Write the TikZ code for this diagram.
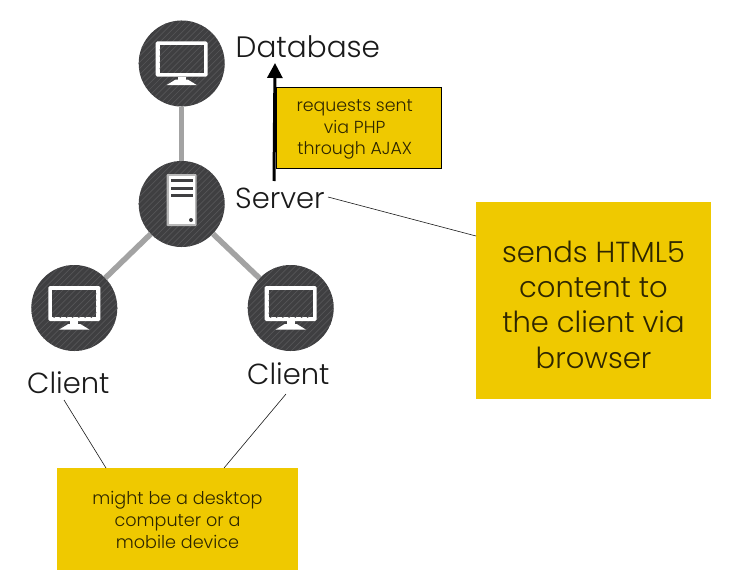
\documentclass[tikz,border=0pt]{standalone}
\usepackage{fontspec}
\setmainfont{Poppins}[UprightFont=* Light]
\usetikzlibrary{arrows.meta}
\definecolor{disc}{HTML}{3F3F41}
\definecolor{stripe}{HTML}{565658}
\definecolor{gold}{HTML}{EFC900}
\definecolor{linkgray}{HTML}{A3A3A3}
\definecolor{ink}{HTML}{1A1A1A}
\definecolor{noteink}{HTML}{2E2600}
\tikzset{
  x=1pt,y=-1pt,
  striped/.style={fill=disc,
    path picture={
      \foreach \k in {-14,...,14}
        \draw[stripe,line width=0.7pt]
          ([xshift=\k*6.2pt-50pt,yshift=-50pt]path picture bounding box.center) --
          ([xshift=\k*6.2pt+50pt,yshift=50pt]path picture bounding box.center);
    }},
  disc node/.style={circle,striped,minimum size=86pt,inner sep=0pt},
  link/.style={linkgray,line width=5.5pt},
  leader/.style={ink,line width=0.6pt},
  label text/.style={text=ink,inner sep=0pt,font=\fontsize{29}{32}\selectfont},
  note/.style={fill=gold,inner sep=0pt,align=center,text=noteink},
  note text/.style={inner sep=0pt,align=center,text=noteink},
  monitor/.pic={
    \fill[white,rounded corners=1.5pt] (-26,-22) rectangle (26,13);
    \path[striped] (-22,-18) rectangle (22,9);
    \fill[white] (-4,13) rectangle (4,17);
    \fill[white] (-6,16) -- (6,16) -- (15,21.5) -- (-15,21.5) -- cycle;
  },
  tower/.pic={
    \fill[white!72!black,rounded corners=1pt] (-15,-30) rectangle (15,22);
    \fill[white] (-13,-28) rectangle (13,20);
    \fill[disc] (-11,-24.8) rectangle (11,-21.8);
    \fill[disc] (-11,-17.5) rectangle (11,-14.5);
    \fill[disc] (-11,-10.5) rectangle (11,-7.5);
    \fill[disc] (9.3,16) circle (2);
  },
}
\begin{document}
\begin{tikzpicture}
\useasboundingbox (0,0) rectangle (730,586);
\fill[white] (0,0) rectangle (730,586);
% discs
\node[disc node] (db) at (181.7,63.5) {};
\node[disc node] (srv) at (181.7,204) {};
\node[disc node] (cl) at (74.3,308) {};
\node[disc node] (cr) at (290.7,308) {};
\pic at (db) {monitor};
\pic at (srv) {tower};
\pic at (cl) {monitor};
\pic at (cr) {monitor};
% links
\draw[link] (db) -- (srv);
\draw[link] (srv) -- (cl);
\draw[link] (srv) -- (cr);
% notes
\node[note,draw=black,line width=0.6pt,minimum width=165pt,minimum height=81pt] (ajax) at (358.5,127.5) {};
\node[note text,font=\fontsize{17.4}{21.5}\selectfont] (ajaxt) at (354.7,129.5) {requests sent\\via PHP\\through AJAX};
\node[note,minimum width=235pt,minimum height=197pt] (html) at (593.5,300.5) {};
\node[note text,font=\fontsize{29}{35.3}\selectfont] (htmlt) at (593.5,304.5) {sends HTML5\\content to\\the client via\\browser};
\node[note,minimum width=241pt,minimum height=102pt] (dev) at (177.5,519) {};
\node[note text,font=\fontsize{17.6}{22}\selectfont] (devt) at (177.5,520) {might be a desktop\\computer or a\\mobile device};
% labels
\node[label text,anchor=base west,font=\fontsize{29.5}{32}\selectfont] (ldb) at (235.5,58) {Database};
\node[label text,anchor=base west] (lsrv) at (235,208) {Server};
\node[label text,anchor=base west] (lcl) at (27,393) {Client};
\node[label text,anchor=base west] (lcr) at (247,384) {Client};
% leaders
\coordinate (srvend) at (328,197);
\coordinate (htmlend) at (476,236);
\coordinate (clend) at (64,400);
\coordinate (devl) at (106,468);
\coordinate (crend) at (286,394);
\coordinate (devr) at (224,468);
\draw[leader] (srvend) -- (htmlend);
\draw[leader] (clend) -- (devl);
\draw[leader] (crend) -- (devr);
% arrow
\coordinate (arrowstart) at (274,181);
\coordinate (arrowend) at (275,63);
\draw[black,line width=3pt,-{Triangle[length=15pt,width=15pt]}] (arrowstart) -- (arrowend);
\end{tikzpicture}
\end{document}
